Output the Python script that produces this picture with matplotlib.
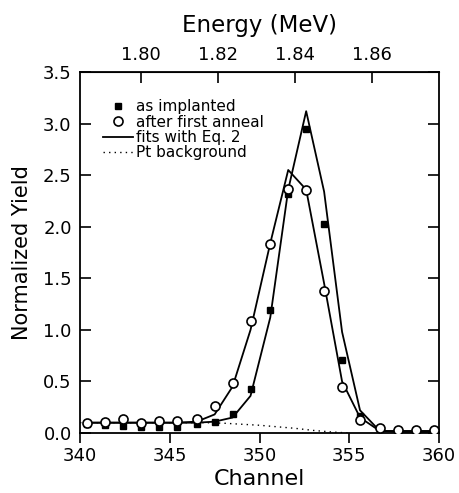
import numpy as np
import matplotlib
matplotlib.use("Agg")
import matplotlib.pyplot as plt
from matplotlib.lines import Line2D

# Data
channel = [340.4, 341.4, 342.4, 343.4, 344.4, 345.4, 346.5, 347.5, 348.5, 349.5,
           350.6, 351.6, 352.6, 353.6, 354.6, 355.6, 356.7, 357.7, 358.7, 359.7]
as_implanted = [0.09, 0.08, 0.07, 0.06, 0.06, 0.06, 0.09, 0.11, 0.18, 0.43,
                1.19, 2.32, 2.95, 2.03, 0.71, 0.16, 0.045, 0.02, 0.01, 0.01]
after_anneal = [0.10, 0.11, 0.14, 0.10, 0.12, 0.12, 0.14, 0.26, 0.48, 1.09,
                1.83, 2.37, 2.36, 1.38, 0.45, 0.13, 0.045, 0.03, 0.025, 0.025]
fit_implanted = [0.10, 0.10, 0.10, 0.10, 0.10, 0.10, 0.10, 0.11, 0.15, 0.36,
                 1.12, 2.36, 3.12, 2.34, 0.98, 0.22, 0.02, 0.01, 0.01, 0.01]
fit_anneal = [0.10, 0.10, 0.10, 0.10, 0.10, 0.10, 0.11, 0.18, 0.45, 1.00,
              1.84, 2.55, 2.36, 1.45, 0.50, 0.15, 0.02, 0.02, 0.02, 0.02]
bg_channel = [340.0, 346.0, 347.0, 348.0, 349.0, 350.0, 351.0, 352.0, 353.0, 354.0, 355.0]
bg_value = [0.10, 0.10, 0.10, 0.095, 0.085, 0.075, 0.06, 0.045, 0.025, 0.01, 0.0]

x_ticks = [340, 345, 350, 355, 360]
y_ticks = [0.0, 0.5, 1.0, 1.5, 2.0, 2.5, 3.0, 3.5]
e_ticks = [1.80, 1.82, 1.84, 1.86]
E0, CH0, DE = 1.80, 343.4, 0.004662  # energy calibration

fig = plt.figure(figsize=(4.59, 4.93), dpi=100)
W, H = 459, 493
ax = fig.add_axes([80 / W, 1 - 433 / H, (439 - 80) / W, (433 - 72) / H])

lw = 1.3
ax.plot(channel, fit_implanted, color='black', lw=lw, zorder=3)
ax.plot(channel, fit_anneal, color='black', lw=lw, zorder=3)
ax.plot(bg_channel, bg_value, color='black', lw=1.0, ls=(0, (1, 3)), zorder=2)
ax.plot(channel, as_implanted, ls='none', marker='s', ms=4.5, mfc='black',
        mec='black', zorder=4)
ax.plot(channel, after_anneal, ls='none', marker='o', ms=6.5, mfc='white',
        mec='black', mew=1.2, zorder=4)

ax.set_xlim(340, 360)
ax.set_ylim(0, 3.5)
ax.set_xticks(x_ticks)
ax.set_xticklabels([str(v) for v in x_ticks])
ax.set_yticks(y_ticks)
ax.set_yticklabels([f"{v:.1f}" for v in y_ticks])

fs = 13
ax.tick_params(axis='y', direction='in', length=8, width=1.2, labelsize=fs, pad=6,
               right=True)
ax.tick_params(axis='x', direction='out', length=7, width=1.2, labelsize=fs, pad=3)
for s in ax.spines.values():
    s.set_linewidth(1.3)

ax.set_xlabel("Channel", fontsize=16, labelpad=3)
ax.set_ylabel("Normalized Yield", fontsize=15, labelpad=8)

def ch2e(c):
    return E0 + (np.asarray(c) - CH0) * DE

def e2ch(e):
    return CH0 + (np.asarray(e) - E0) / DE

sec = ax.secondary_xaxis('top', functions=(ch2e, e2ch))
sec.set_xticks(e_ticks)
sec.set_xticklabels([f"{v:.2f}" for v in e_ticks])
sec.tick_params(direction='in', length=8, width=1.2, labelsize=fs, pad=6)
sec.set_xlabel("Energy (MeV)", fontsize=16.5, labelpad=10)

handles = [
    Line2D([], [], ls='none', marker='s', ms=4.5, mfc='black', mec='black'),
    Line2D([], [], ls='none', marker='o', ms=6.5, mfc='white', mec='black', mew=1.2),
    Line2D([], [], color='black', lw=lw),
    Line2D([], [], color='black', lw=1.0, ls=(0, (1, 3))),
]
labels = ["as implanted", "after first anneal", "fits with Eq. 2", "Pt background"]
ax.legend(handles, labels, loc='upper left', bbox_to_anchor=(0.063, 0.925),
          frameon=False, fontsize=11, handlelength=2.0, handletextpad=0.2,
          labelspacing=0.03, borderpad=0, borderaxespad=0)

fig.savefig("out.png", dpi=100)
